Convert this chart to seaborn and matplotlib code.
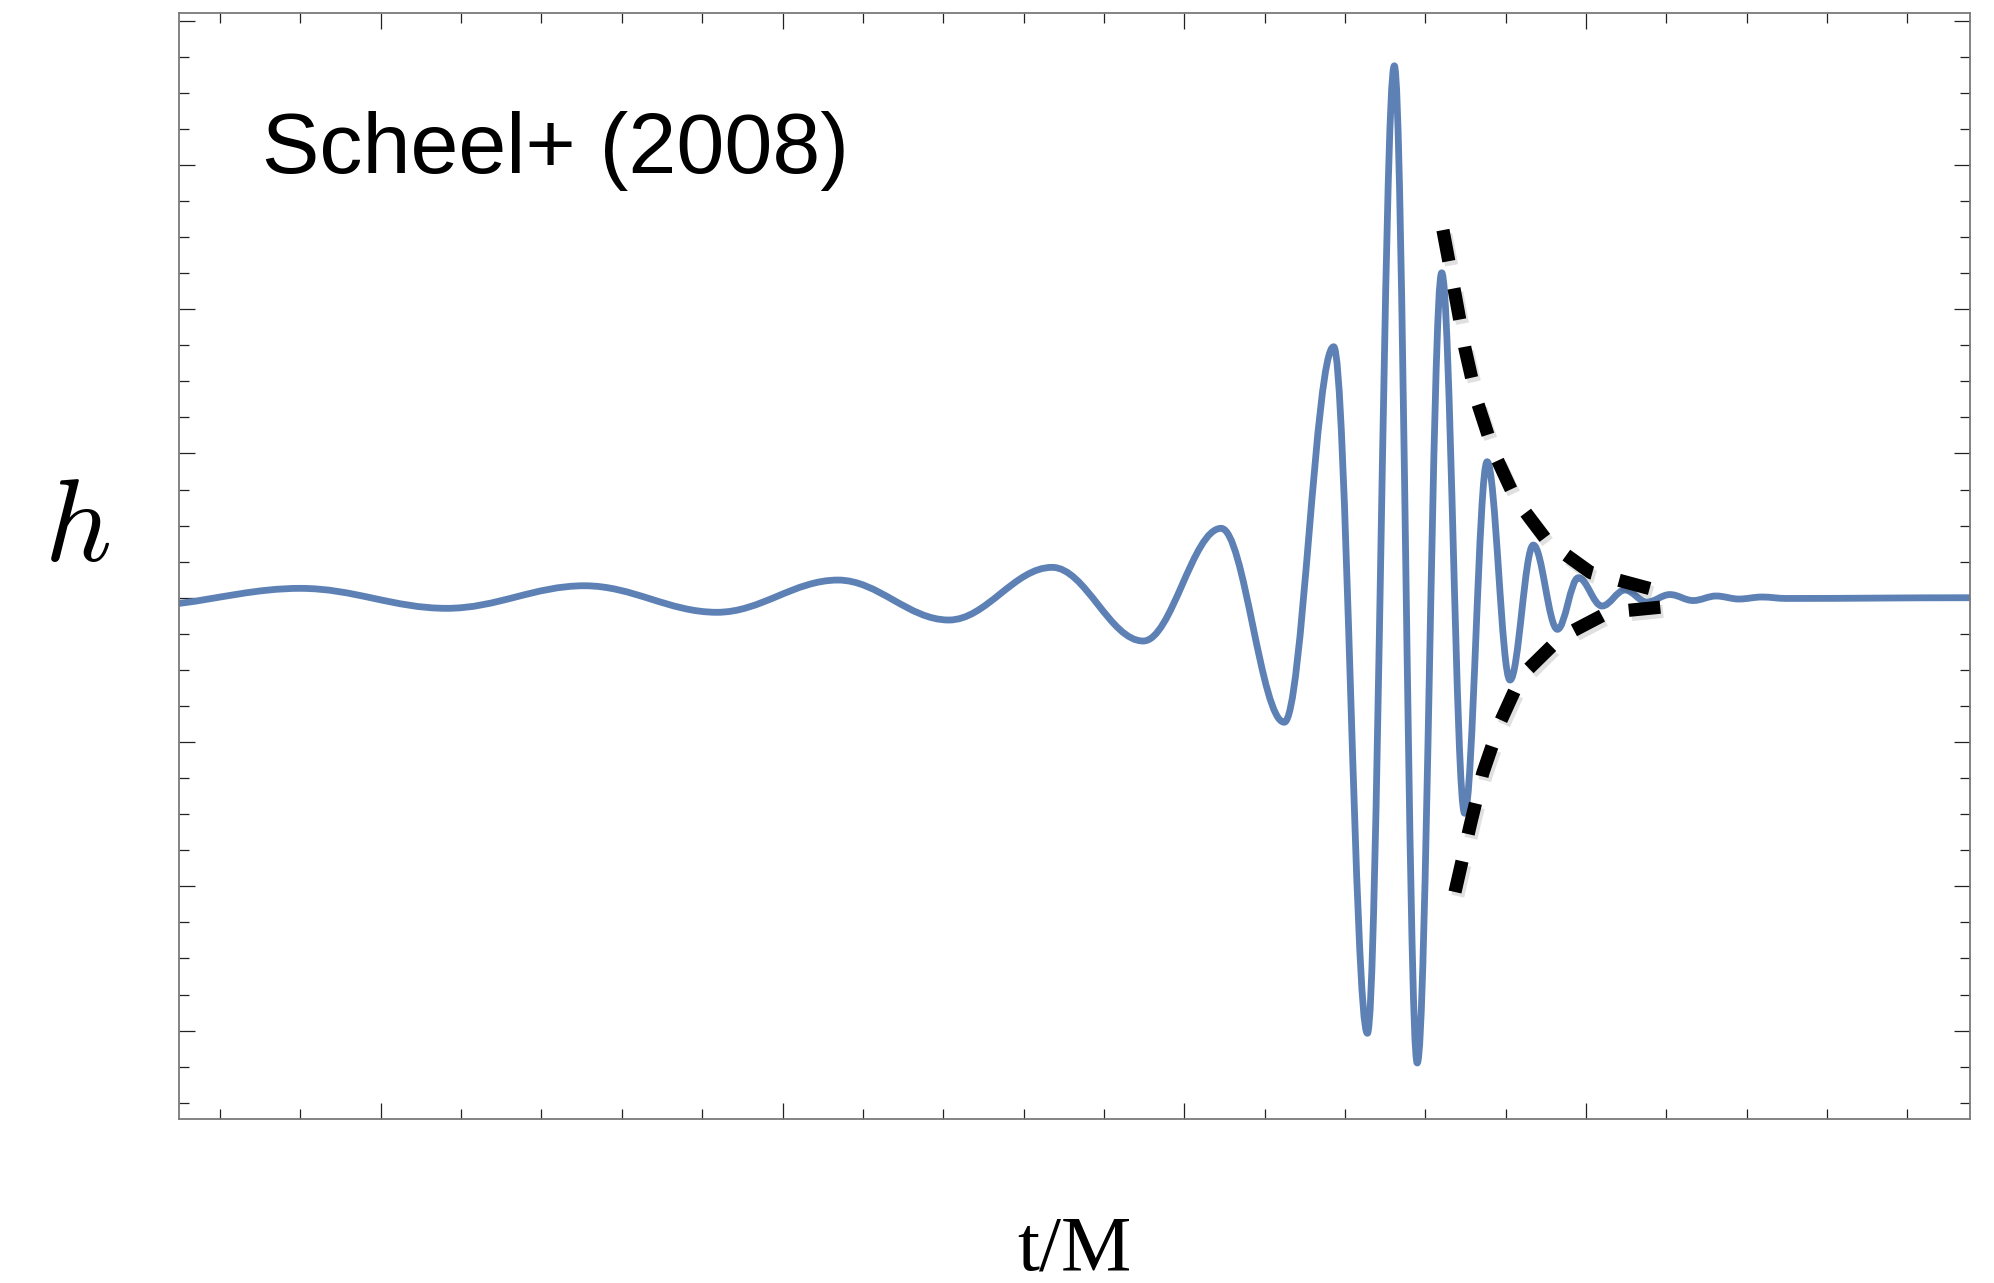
import matplotlib
matplotlib.use("Agg")
import numpy as np
import pandas as pd
import seaborn as sns
import matplotlib.pyplot as plt
from matplotlib.path import Path
from matplotlib.patches import PathPatch
import matplotlib.patheffects as pe

# ---- data (t/M, h) ----
# successive extrema of the waveform (first/last = values at the frame edges)
wave_t = [499, 800, 1164, 1507, 1837, 2138, 2414, 2671, 2898, 3092, 3249,
          3372, 3456, 3523, 3580, 3641, 3698, 3754, 3811, 3869, 3929, 3981,
          4040, 4097, 4152, 4209, 4267, 4324, 4381, 4438, 4499, 4956]
wave_h = [-0.0078, 0.0130, -0.0147, 0.0166, -0.0202, 0.0245, -0.0309, 0.0421,
          -0.0600, 0.0962, -0.1726, 0.3479, -0.6037, 0.7373, -0.6449, 0.4504,
          -0.2988, 0.1885, -0.1141, 0.0730, -0.0438, 0.0277, -0.0115, 0.0107,
          -0.0060, 0.0044, -0.0039, 0.0024, -0.0018, 0.0010, -0.0010, 0.0]

# ringdown envelope (dashed)
upper_t = [3644, 3675, 3699, 3728, 3769, 3825, 3905, 4012, 4177]
upper_h = [0.5096, 0.4182, 0.3451, 0.2740, 0.2037, 0.1364, 0.0776, 0.0347, 0.0100]
lower_t = [3674, 3712, 3743, 3787, 3839, 3937, 4056, 4214]
lower_h = [-0.4079, -0.3150, -0.2434, -0.1719, -0.1085, -0.0549, -0.0202, -0.0115]

annotation = "Scheel+ (2008)"
x_label = "t/M"
y_label = r"$h$"

x_major = [1000, 2000, 3000, 4000]
x_minor = list(range(600, 4801, 200))
y_major = [-0.6, -0.4, -0.2, 0.0, 0.2, 0.4, 0.6, 0.8]
y_minor = [round(-0.70 + 0.05 * i, 2) for i in range(31)]

# ---- style ----
sns.set_style("ticks")
plt.rcParams["mathtext.fontset"] = "cm"
plt.rcParams["font.family"] = ["Liberation Sans", "DejaVu Sans"]
plt.rcParams["text.color"] = "black"

fig = plt.figure(figsize=(19.94, 12.83), dpi=100)
ax = fig.add_axes([0.09002, 0.12783, 0.89794, 0.86228])

BLUE = "#5E81B5"
K = 0.3634

# smooth curve through the read extrema (Bezier path drawn by matplotlib)
verts = [(wave_t[0], wave_h[0])]
codes = [Path.MOVETO]
n = len(wave_t)
for i in range(n - 1):
    t0, h0, t1, h1 = wave_t[i], wave_h[i], wave_t[i + 1], wave_h[i + 1]
    dt = t1 - t0
    if i == 0:
        c1 = (t0 + dt / 3.0, h0 + (h1 - h0) / 3.0)
    else:
        c1 = (t0 + K * dt, h0)
    c2 = (t1 - K * dt, h1)
    verts += [c1, c2, (t1, h1)]
    codes += [Path.CURVE4] * 3
wave_patch = PathPatch(Path(verts, codes), facecolor="none", edgecolor=BLUE,
                       lw=4.9, capstyle="round", joinstyle="round", zorder=2)
ax.add_patch(wave_patch)

env_df_u = pd.DataFrame({"t": upper_t, "h": upper_h})
env_df_l = pd.DataFrame({"t": lower_t, "h": lower_h})
for df in (env_df_u, env_df_l):
    sns.lineplot(data=df, x="t", y="h", sort=False, estimator=None, ax=ax,
                 color="black", lw=9.5, linestyle=(0, (2.4, 2.1)),
                 dash_capstyle="butt", zorder=3,
                 path_effects=[pe.SimpleLineShadow(offset=(2, -3), alpha=0.12),
                               pe.Normal()])

ax.set_xlim(498.9, 4956)
ax.set_ylim(-0.7225, 0.8109)
ax.set_xticks(x_major)
ax.set_xticks(x_minor, minor=True)
ax.set_yticks(y_major)
ax.set_yticks(y_minor, minor=True)
ax.tick_params(which="both", direction="in", top=True, right=True,
               labelbottom=False, labelleft=False, color="#222222", width=0.9)
ax.tick_params(which="major", length=11.5)
ax.tick_params(which="minor", length=7.0)
for s in ax.spines.values():
    s.set_visible(True)
    s.set_color("#7a7a7a")
    s.set_linewidth(1.3)
ax.set_xlabel("")
ax.set_ylabel("")

ax.text(0.0462, 0.8551, annotation, transform=ax.transAxes, ha="left",
        va="baseline", fontsize=62, color="black",
        family=["Liberation Sans", "DejaVu Sans"])

fig.text(0.03847, 0.5630, y_label, ha="center", va="baseline", fontsize=84,
         color="black")
fig.text(0.5386, 0.01068, x_label, ha="center", va="baseline", fontsize=57,
         color="black", family=["Liberation Serif", "DejaVu Serif"])

fig.savefig("out.png", dpi=100)
